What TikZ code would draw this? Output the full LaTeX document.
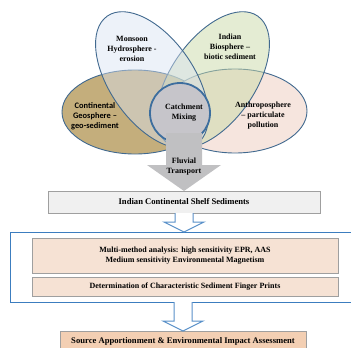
\documentclass[tikz,border=0pt]{standalone}
\usepackage{fontspec}
\setmainfont{Liberation Serif}
\newfontfamily\calibri{Carlito}
\usepackage{tikz}
\usetikzlibrary{shapes.geometric, positioning, calc}
\definecolor{cOutline}{HTML}{41698F}
\definecolor{cHydro}{HTML}{D8E2F2}
\definecolor{cBio}{HTML}{C9DAA8}
\definecolor{cGeo}{HTML}{C4AE7C}
\definecolor{cAnthro}{HTML}{F6E5DE}
\definecolor{cCatch}{HTML}{C6C5CA}
\definecolor{cRing}{HTML}{3D6E9E}
\definecolor{cFluvial}{HTML}{C0C0C2}
\definecolor{cFrame}{HTML}{3C7DBF}
\definecolor{cShelf}{HTML}{F0F0F0}
\definecolor{cPeach}{HTML}{F6E2D4}
\definecolor{cSource}{HTML}{F3CFB3}

% hollow block arrow pointing down, from #1 to #2
\newcommand{\hollowdown}[2]{%
  \draw[hollow] let \p1=(#1), \p2=(#2) in
    (\x1-9pt,\y1) -- (\x1-9pt,\y2+10pt) -- (\x1-20pt,\y2+10pt) -- (\x1,\y2)
    -- (\x1+20pt,\y2+10pt) -- (\x1+9pt,\y2+10pt) -- (\x1+9pt,\y1);}

\begin{document}
\begin{tikzpicture}[x=1pt, y=-1pt,
  every node/.style={font=\fontsize{8}{10}\selectfont\bfseries},
  sphere/.style={ellipse, draw=cOutline, line width=0.9pt, fill=#1,
                 inner sep=0pt, outer sep=0pt},
  box/.style={rectangle, draw=gray!75, fill=#1, line width=0.8pt,
              inner sep=0pt, outer sep=0pt, align=center},
  bigtext/.style={font=\fontsize{8.6}{10}\selectfont\bfseries},
  txt/.style={align=center, inner sep=0pt},
  hollow/.style={draw=cFrame!85, fill=white, line width=1pt},
]
\useasboundingbox (0,0) rectangle (351,348);
\clip (0,0) rectangle (351,348);

% Spheres
\node[sphere=cGeo, minimum width=146, minimum height=84] (geo) at (135,112) {};
\node[sphere=cAnthro, minimum width=144, minimum height=84] (anthro) at (235,111) {};
\node[sphere=cBio, fill opacity=0.5, minimum width=156, minimum height=84,
      rotate=55] (bio) at (213,80) {};
\node[sphere=cHydro, fill opacity=0.45, minimum width=156, minimum height=84,
      rotate=-55] (hydro) at (152,80) {};
\node[circle, draw=cRing, line width=1.8pt, fill=cCatch, minimum size=60,
      inner sep=0pt] (catch) at (180,113) {};

% Boxes
\node[box=cShelf, bigtext, minimum width=272, minimum height=22] (shelf) at (184,202)
  {Indian Continental Shelf Sediments};
\node[rectangle, draw=cFrame, line width=1pt, minimum width=352, minimum height=70,
      outer sep=0pt] (frame) at (186,267) {};
\node[box=cPeach, minimum width=306, minimum height=35] (multi) at (185,255.5)
  {Multi-method analysis: high sensitivity EPR, AAS\\
   Medium sensitivity Environmental Magnetism};
\node[box=cPeach, minimum width=306, minimum height=19, below=4pt of multi] (finger)
  {Determination of Characteristic Sediment Finger Prints};
\node[box=cSource, bigtext, minimum width=246, minimum height=20] (source) at (183,341)
  {Source Apportionment \& Environmental Impact Assessment};

% Arrows
\fill[cFluvial] let \p1=(catch.center), \p2=(shelf.north) in
  (\x2-18pt,\y1-20pt) -- (\x2-18pt,\y2+26pt) -- (\x2-37pt,\y2+26pt) -- (\x2,\y2)
  -- (\x2+37pt,\y2+26pt) -- (\x2+18pt,\y2+26pt) -- (\x2+18pt,\y1-20pt) -- cycle;
\hollowdown{shelf.south}{shelf.south |- frame.north}
\hollowdown{source.north |- frame.south}{source.north}

% Labels
\node[txt] (hydrotext) at (132,49) {Monsoon\\Hydrosphere -\\erosion};
\node[txt] (biotext) at (230,47) {Indian\\Biosphere –\\biotic sediment};
\node[txt, font=\calibri\fontsize{8.4}{10}\selectfont\bfseries] (geotext) at (95,116)
  {Continental\\Geosphere –\\geo-sediment};
\node[txt] (anthrotext) at (263,116) {Anthroposphere\\– particulate\\pollution};
\node[txt] (catchtext) at (184,113) {Catchment\\Mixing};
\node[txt] (fluvialtext) at (184,167) {Fluvial\\Transport};

\end{tikzpicture}
\end{document}
